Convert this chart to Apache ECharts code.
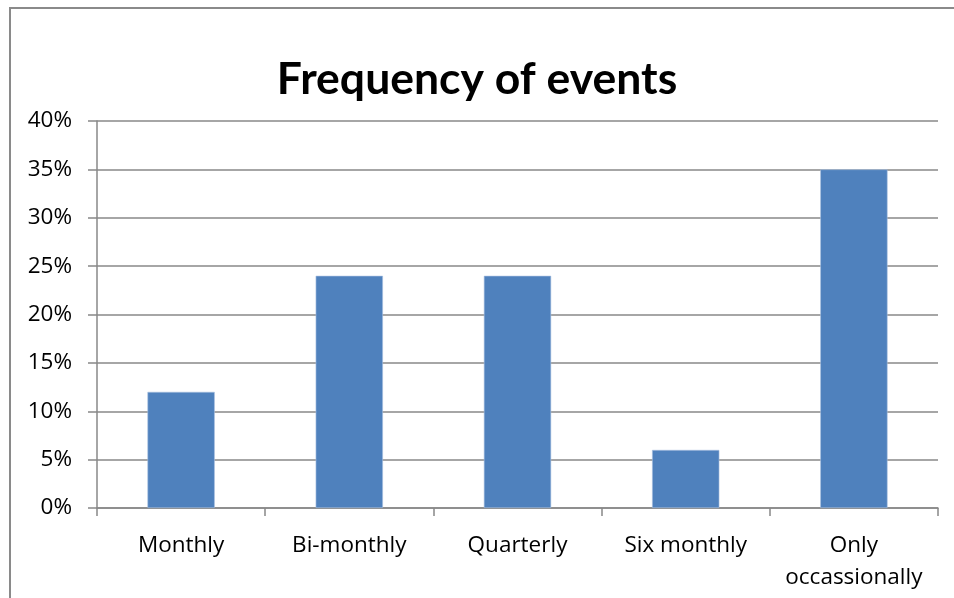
<!DOCTYPE html>
<html>
<head>
<meta charset="utf-8">
<script src="https://cdn.jsdelivr.net/npm/echarts@6/dist/echarts.min.js"></script>
<style>
  html, body { margin: 0; padding: 0; background: #ffffff; }
  #chart { width: 954px; height: 598px; }
</style>
</head>
<body>
<div id="chart"></div>
<script>
// Survey answers: how often events are held
const categories = ['Monthly', 'Bi-monthly', 'Quarterly', 'Six monthly', 'Only\noccassionally'];
const shares = [12, 24, 24, 6, 35];           // percent of respondents
const yTicks = [0, 5, 10, 15, 20, 25, 30, 35, 40];

const TITLE_FONT = 'Lato, "Open Sans", sans-serif';
const LABEL_FONT = '"Open Sans", Lato, sans-serif';

const chart = echarts.init(document.getElementById('chart'), null, { renderer: 'canvas' });

chart.setOption({
  backgroundColor: '#ffffff',
  animation: false,
  title: {
    text: 'Frequency of events',
    left: 'center',
    top: 52,
    textStyle: { fontFamily: TITLE_FONT, fontSize: 44.5, fontWeight: 'bold', color: '#000000' }
  },
  graphic: [{
    type: 'rect',
    silent: true,
    shape: { x: 10, y: 8, width: 1000, height: 700 },
    style: { fill: 'none', stroke: '#8a8a8a', lineWidth: 2 }
  }],
  grid: { left: 97, right: 16, top: 121, bottom: 90, containLabel: false },
  xAxis: {
    type: 'category',
    data: categories,
    axisLine: { show: true, lineStyle: { color: '#888888', width: 1.5 } },
    axisTick: { show: true, interval: 0, length: 8, lineStyle: { color: '#888888', width: 1.5 } },
    axisLabel: {
      interval: 0, hideOverlap: false,
      color: '#000000', fontFamily: LABEL_FONT, fontSize: 22.5, lineHeight: 32, margin: 22
    }
  },
  yAxis: {
    type: 'value',
    min: yTicks[0],
    max: yTicks[yTicks.length - 1],
    interval: 5,
    axisLine: { show: true, lineStyle: { color: '#888888', width: 1.5 } },
    axisTick: { show: true, length: 9, lineStyle: { color: '#888888', width: 1.5 } },
    splitLine: { show: true, lineStyle: { color: '#888888', width: 1.5 } },
    axisLabel: {
      color: '#000000', fontFamily: LABEL_FONT, fontSize: 22.5, margin: 25,
      formatter: v => v + '%'
    }
  },
  series: [{
    type: 'bar',
    data: shares,
    barWidth: '40%',
    itemStyle: { color: '#4f81bd', borderColor: '#a9c1e0', borderWidth: 0.6 }
  }]
});
</script>
</body>
</html>
